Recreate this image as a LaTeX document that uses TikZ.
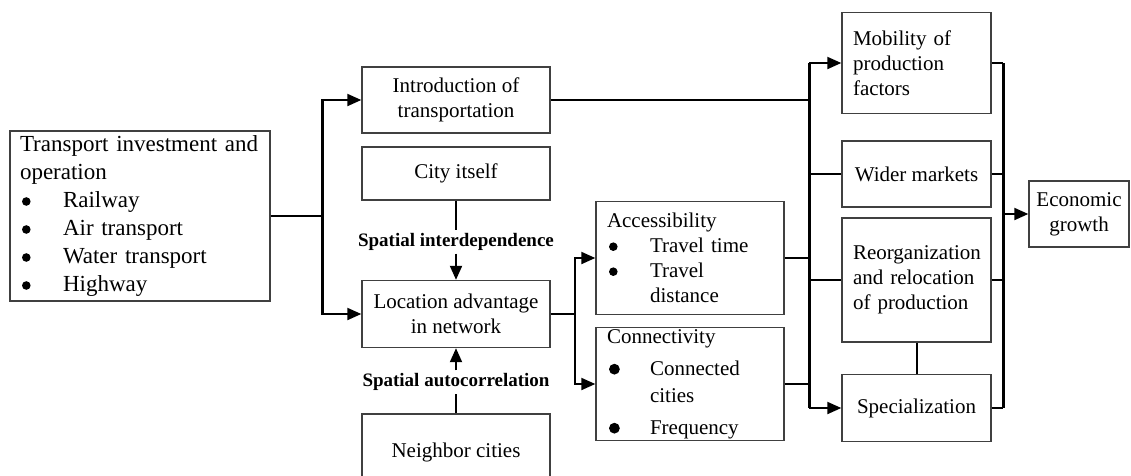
\documentclass[tikz,border=0pt]{standalone}
\usepackage{fontspec}
\setmainfont{Liberation Serif}
\usetikzlibrary{arrows.meta}

\newcommand{\blt}{\makebox[43pt][l]{\hspace{2pt}\tikz[baseline=-6pt]\fill (0,0) circle (4.3pt);}}
\newcommand{\bigblt}{\makebox[43pt][l]{\hspace{2pt}\tikz[baseline=-6pt]\fill (0,0) circle (5.4pt);}}

\begin{document}
\begin{tikzpicture}[x=1pt, y=-1pt,
  >={Triangle[length=14pt, width=12pt]},
  box/.style={draw=black!75, line width=1.4pt, inner sep=0pt, align=center,
    font=\fontsize{21}{25}\selectfont},
  lbox/.style={box, align=left, inner xsep=11pt},
  lab/.style={font=\fontsize{19}{22}\selectfont\bfseries, inner sep=2pt},
  every path/.style={line width=2pt},
  trunk/.style={line width=3pt}]

  % ====== 1) 页面范围 ======
  \useasboundingbox (0,0) rectangle (1131,475);

  % ====== 2) 左侧：交通投资 ======
  \node[lbox, inner xsep=10pt, text width=240pt, minimum height=170pt,
    font=\fontsize{23}{28}\selectfont] (src) at (140,216)
    {Transport investment and\\ operation\\ \blt Railway\\ \blt Air transport\\
     \blt Water transport\\ \blt Highway};

  % ====== 3) 中间一列 ======
  \node[box, minimum width=188pt, minimum height=66pt] (intro) at (456,100)
    {Introduction of\\ transportation};
  \node[box, minimum width=188pt, minimum height=53pt] (city) at (456,173.5)
    {City itself};
  \node[lab] (dep) at (456,242) {Spatial interdependence};
  \node[box, minimum width=188pt, minimum height=67pt] (loc) at (456,314)
    {Location advantage\\ in network};
  \node[lab] (auto) at (456,382) {Spatial autocorrelation};
  \node[box, minimum width=188pt, minimum height=76pt] (nbr) at (456,452)
    {Neighbor cities};

  % ====== 4) 可达性与连通性 ======
  \node[lbox, text width=166pt, minimum height=113pt] (acc) at (690,258)
    {Accessibility\\ \blt Travel time\\ \blt Travel\\ \hspace*{43pt}distance};
  \node[lbox, text width=166pt, minimum height=113pt] (con) at (690,384)
    {Connectivity\\[7pt] \bigblt Connected\\[2pt] \hspace*{43pt}cities\\[7pt]
     \bigblt Frequency};

  % ====== 5) 右侧效应 ======
  \node[lbox, text width=127pt, minimum height=101pt] (mob) at (916.5,63)
    {Mobility of\\ production\\ factors};
  \node[box, minimum width=149pt, minimum height=66pt] (wid) at (916.5,174)
    {Wider markets};
  \node[lbox, text width=127pt, minimum height=124pt] (reo) at (916.5,280)
    {Reorganization\\ and relocation\\ of production};
  \node[box, minimum width=149pt, minimum height=67pt] (spe) at (916.5,408)
    {Specialization};
  \node[box, minimum width=100pt, minimum height=66pt] (eco) at (1079,214)
    {Economic\\ growth};

  % ====== 6) 分叉点 ======
  \coordinate (j1) at (322,216);
  \coordinate (j2) at (575,314);
  \coordinate (j3) at (809,0);
  \coordinate (j4) at (1003,0);

  % ====== 7) 连线 ======
  \draw (src) -- (j1);
  \draw[->] (j1) |- (intro);
  \draw[->] (j1) |- (loc);
  \draw[trunk] (j1 |- intro) -- (j1 |- loc);

  \draw (city) -- (dep);
  \draw[->] (dep) -- (loc);
  \draw (nbr) -- (auto);
  \draw[->] (auto) -- (loc);

  \draw (loc) -- (j2);
  \draw[->] (j2) |- (acc);
  \draw[->] (j2) |- (con);

  \draw (intro) -- (intro -| j3);
  \draw (acc) -- (acc -| j3);
  \draw (con) -- (con -| j3);
  \draw[trunk] (j3 |- mob) -- (j3 |- spe);
  \draw[->] (j3 |- mob) -- (mob);
  \draw (j3 |- wid) -- (wid);
  \draw (j3 |- reo) -- (reo);
  \draw[->] (j3 |- spe) -- (spe);

  \draw (reo) -- (spe);

  \draw (mob) -- (mob -| j4);
  \draw (wid) -- (wid -| j4);
  \draw (reo) -- (reo -| j4);
  \draw (spe) -- (spe -| j4);
  \draw[trunk] (j4 |- mob) -- (j4 |- spe);
  \draw[->] (j4 |- eco) -- (eco);

\end{tikzpicture}
\end{document}
